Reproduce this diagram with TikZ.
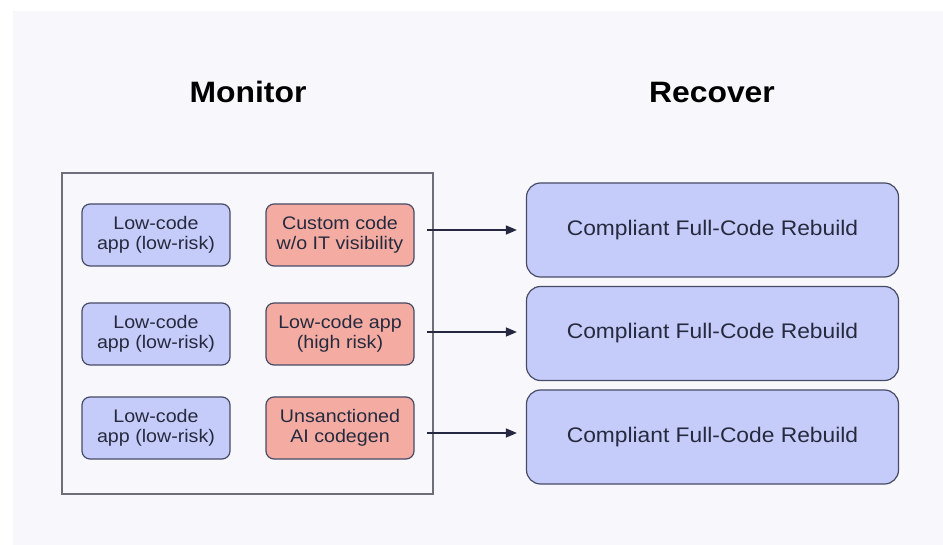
\documentclass[tikz,border=0pt]{standalone}
\usepackage{fontspec}
\setmainfont[FakeStretch=1.08]{Liberation Sans}
\usetikzlibrary{arrows.meta,positioning}

\definecolor{panelbg}{HTML}{F8F8FC}
\definecolor{framegray}{HTML}{6E6E78}
\definecolor{boxline}{HTML}{474B66}
\definecolor{bluefill}{HTML}{C6CCFA}
\definecolor{redfill}{HTML}{F4ACA2}
\definecolor{inktext}{HTML}{262A3E}
\definecolor{arrowink}{HTML}{262842}

\tikzset{
  heading/.style={font=\bfseries\fontsize{29.5}{34}\selectfont, text=black},
  smallbox/.style={draw=boxline, line width=1.2pt, rounded corners=8pt,
    minimum width=148pt, minimum height=62pt, inner sep=0pt, align=center,
    text=inktext, font=\fontsize{18.2}{20.5}\selectfont},
  lowrisk/.style={smallbox, fill=bluefill},
  highrisk/.style={smallbox, fill=redfill},
  rebuild/.style={draw=boxline, line width=1.2pt, rounded corners=14pt,
    fill=bluefill, minimum width=372pt, minimum height=94pt, inner sep=0pt,
    text=inktext, font=\fontsize{21.1}{25}\selectfont},
  flow/.style={draw=arrowink, line width=1.5pt,
    -{Triangle[length=11pt,width=9pt]}, shorten >=9pt}
}

\begin{document}
\begin{tikzpicture}[x=1pt, y=-1pt]
  \useasboundingbox (0,0) rectangle (943,545);
  \fill[white] (0,0) rectangle (943,545);
  \fill[panelbg] (13,11) rectangle (943,545);

  % column headings
  \node[heading] (hmon) at (248,92) {Monitor};
  \node[heading] (hrec) at (712,92) {Recover};

  % monitored application inventory
  \node[draw=framegray, line width=1.5pt, minimum width=371pt, minimum height=321pt,
        inner sep=0pt] (inv) at (247.5,333.5) {};

  \node[lowrisk] (lc1) at (156,235) {Low-code\\app (low-risk)};
  \node[lowrisk] (lc2) at (156,334) {Low-code\\app (low-risk)};
  \node[lowrisk] (lc3) at (156,428) {Low-code\\app (low-risk)};

  \node[highrisk] (hr1) at (340,235) {Custom code\\w/o IT visibility};
  \node[highrisk] (hr2) at (340,334) {Low-code app\\(high risk)};
  \node[highrisk] (hr3) at (340,428) {Unsanctioned\\AI codegen};

  % recovery targets
  \node[rebuild] (rb1) at (712.5,230) {Compliant Full-Code Rebuild};
  \node[rebuild] (rb2) at (712.5,333.5) {Compliant Full-Code Rebuild};
  \node[rebuild] (rb3) at (712.5,437) {Compliant Full-Code Rebuild};

  % connectors leaving the inventory frame
  \coordinate (s1) at (427,230);
  \coordinate (s2) at (427,332);
  \coordinate (s3) at (427,433);
  \draw[flow] (s1) -- (s1 -| rb1.west);
  \draw[flow] (s2) -- (s2 -| rb2.west);
  \draw[flow] (s3) -- (s3 -| rb3.west);
\end{tikzpicture}
\end{document}
